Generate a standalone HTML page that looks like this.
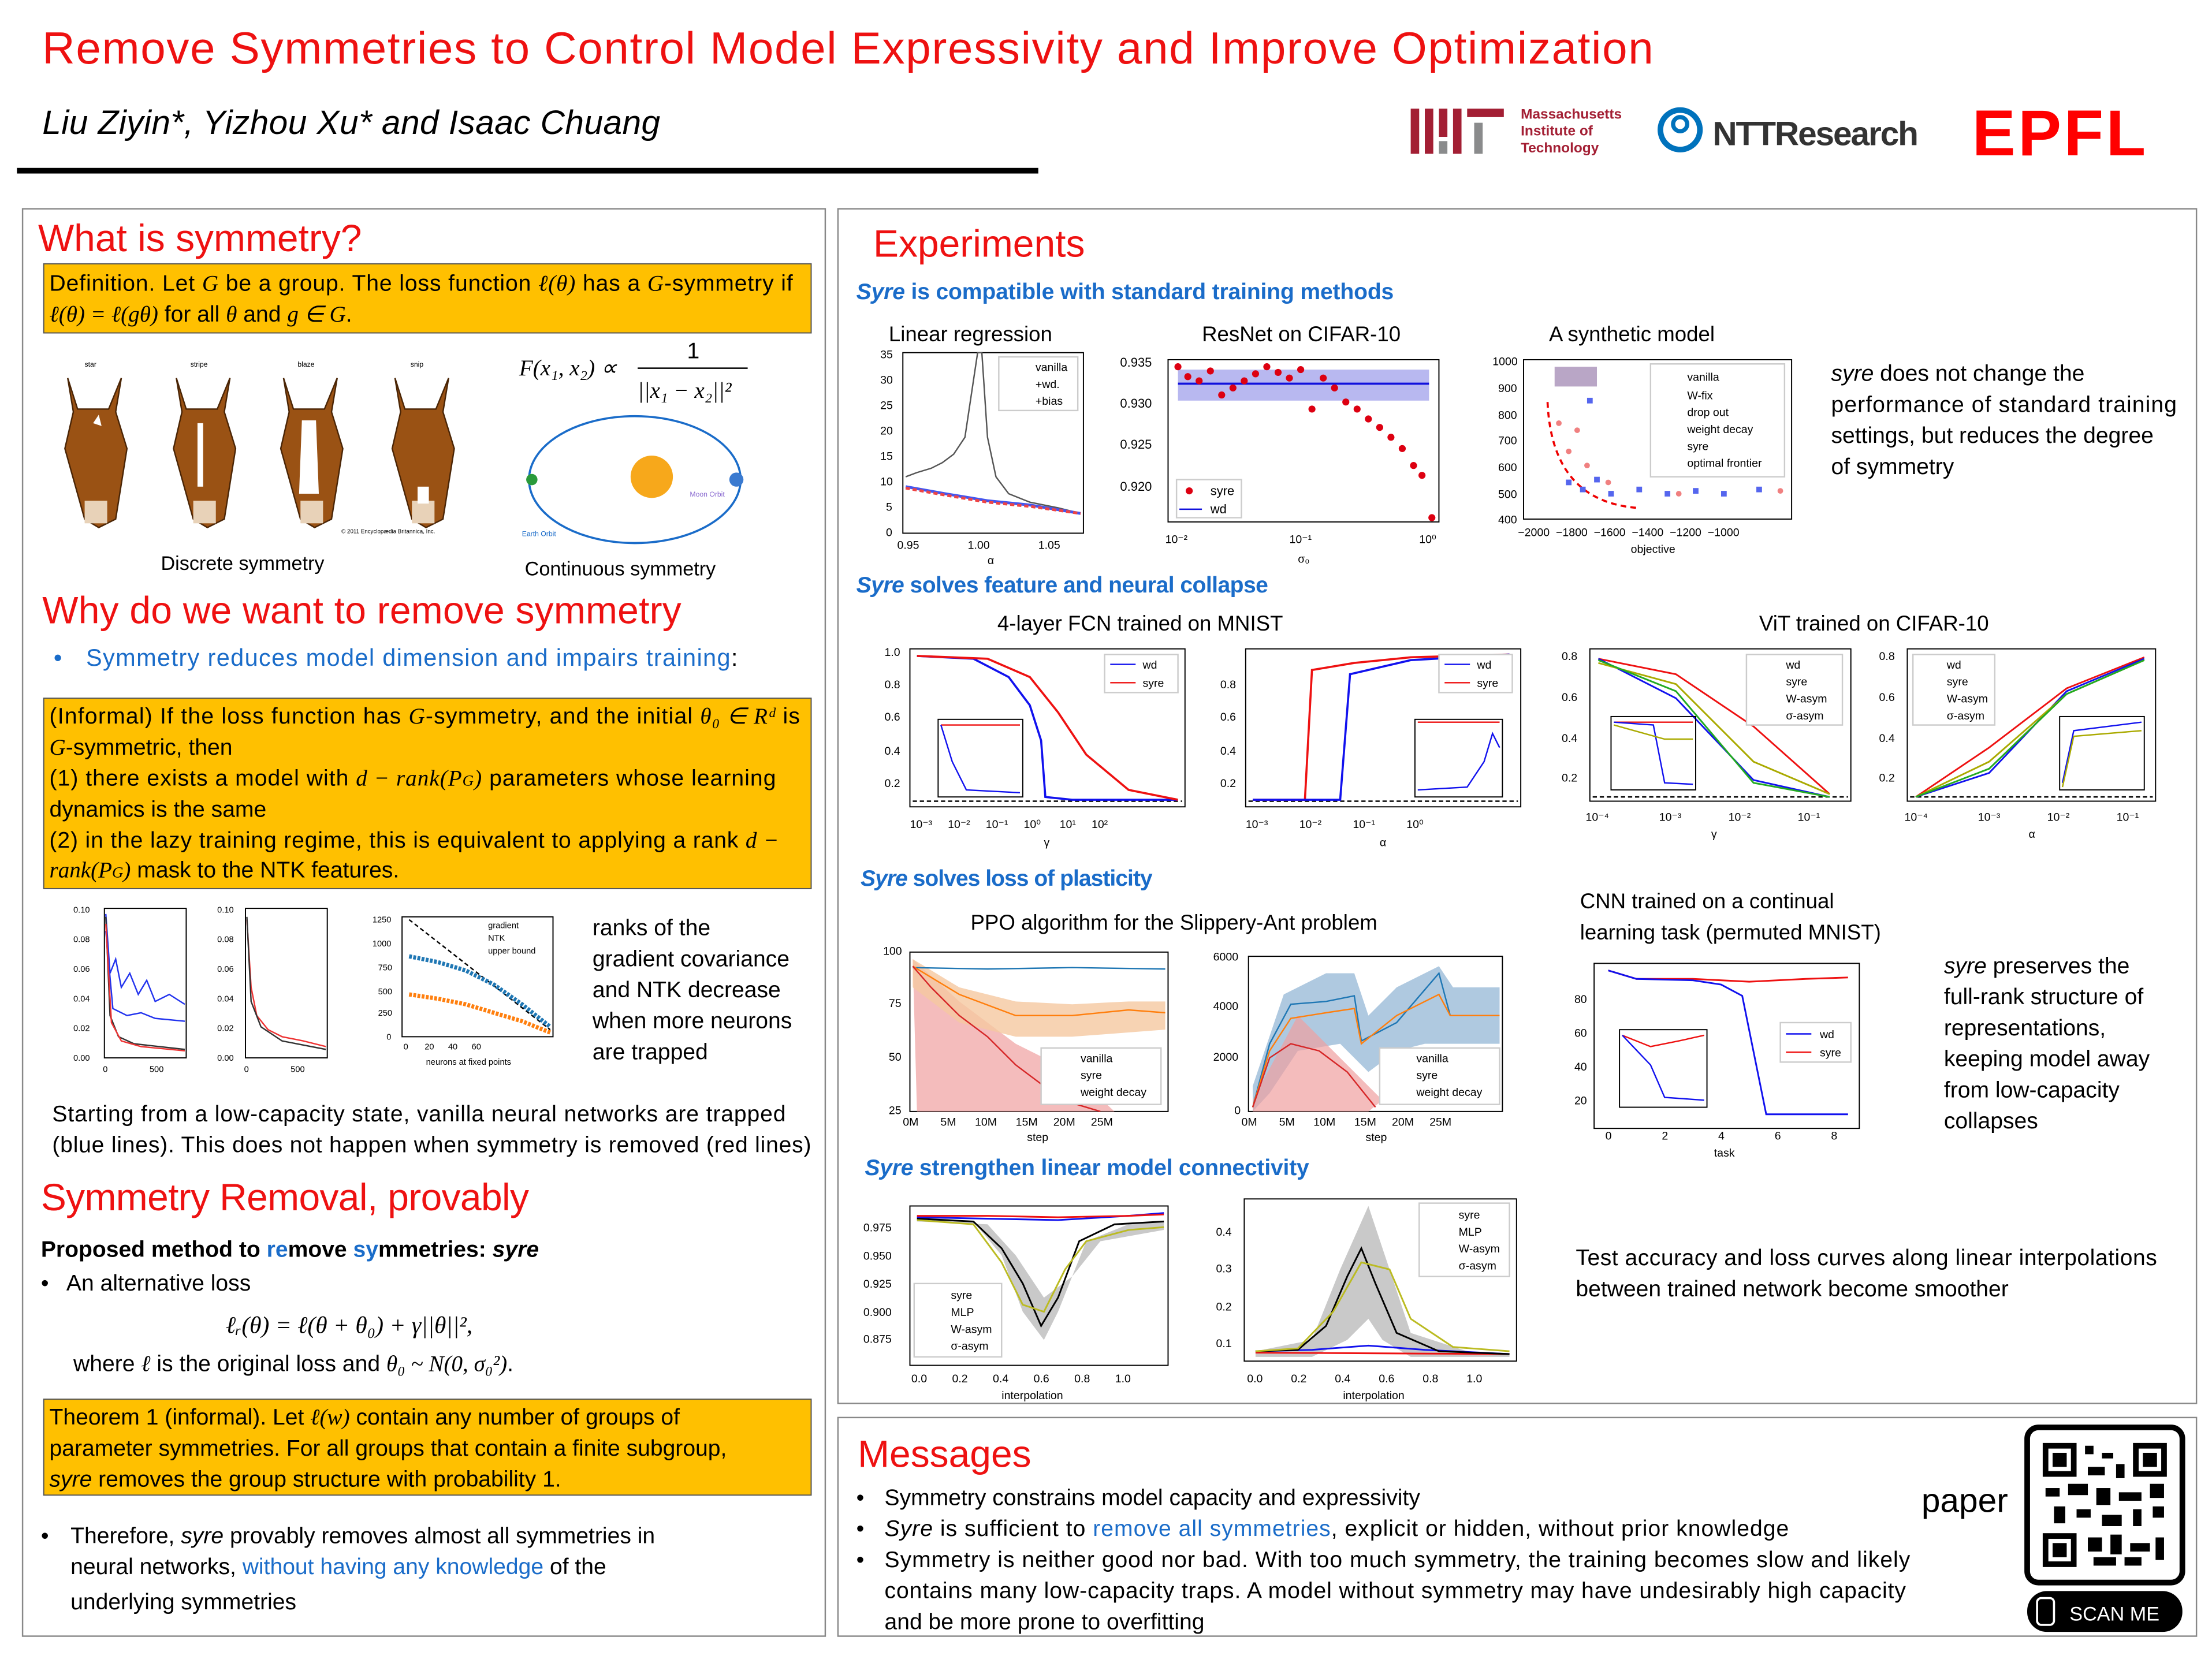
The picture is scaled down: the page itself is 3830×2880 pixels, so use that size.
<!DOCTYPE html>
<html><head><meta charset="utf-8"><style>
html,body{margin:0;padding:0;background:#fff}
svg{display:block}
text{font-family:"Liberation Sans",sans-serif;white-space:pre}
.t{font-size:16px;fill:#000}
.r{fill:#ee1111;font-size:27px}
.b{fill:#1a6cc9}
.sm{font-size:8px;fill:#000}
.ax{fill:none;stroke:#000;stroke-width:0.8}
.m{font-family:"Liberation Serif",serif;font-style:italic}
</style></head><body>
<svg width="3830" height="2880" viewBox="0 0 1568 1179" xmlns="http://www.w3.org/2000/svg">
<rect width="1568" height="1179" fill="#fff"/>
<!-- header -->
<text x="30" y="45" font-size="32" fill="#ee1111" textLength="1142">Remove Symmetries to Control Model Expressivity and Improve Optimization</text>
<text x="30" y="95" font-size="24" font-style="italic" textLength="438">Liu Ziyin*, Yizhou Xu* and Isaac Chuang</text>
<rect x="12" y="119" width="724" height="4" fill="#000"/>
<g fill="#a31f34"><rect x="1000" y="77" width="6" height="32"/><rect x="1010" y="77" width="6" height="32"/><rect x="1020" y="77" width="6" height="20"/><rect x="1030" y="77" width="6" height="32"/><rect x="1040" y="77" width="26" height="6"/></g>
<rect x="1020" y="100" width="6" height="9" fill="#8a8b8c"/><rect x="1045" y="87" width="6" height="22" fill="#8a8b8c"/>
<text x="1078" y="84" font-size="10" font-weight="bold" fill="#a31f34">Massachusetts</text>
<text x="1078" y="96" font-size="10" font-weight="bold" fill="#a31f34">Institute of</text>
<text x="1078" y="108" font-size="10" font-weight="bold" fill="#a31f34">Technology</text>
<circle cx="1191" cy="92" r="14" fill="none" stroke="#0072bc" stroke-width="4"/><circle cx="1191" cy="88" r="5" fill="none" stroke="#0072bc" stroke-width="3"/>
<text x="1214" y="103" font-size="24" font-weight="bold" fill="#333" textLength="146">NTTResearch</text>
<text x="1398" y="110" font-size="46" font-weight="bold" fill="#ff0000" textLength="123">EPFL</text>

<rect x="16" y="148" width="569" height="1012" fill="none" stroke="#888" stroke-width="1"/>
<rect x="594" y="148" width="963" height="847" fill="none" stroke="#888" stroke-width="1"/>
<rect x="594" y="1005" width="963" height="155" fill="none" stroke="#888" stroke-width="1"/>

<text x="27" y="178" class="r">What is symmetry?</text>
<rect x="31" y="187" width="544" height="49" fill="#ffc000" stroke="#555" stroke-width="0.8"/>
<text x="35" y="206" class="t" textLength="527">Definition. Let <tspan class="m">G</tspan> be a group. The loss function <tspan class="m">ℓ(θ)</tspan> has a <tspan class="m">G</tspan>-symmetry if</text>
<text x="35" y="228" class="t"><tspan class="m">ℓ(θ) = ℓ(gθ)</tspan> for all <tspan class="m">θ</tspan> and <tspan class="m">g ∈ G</tspan>.</text>
<g>
<g id="h" fill="#9a5214" stroke="#4a2506" stroke-width="1">
<path d="M48,268 L55,290 L77,290 L86,268 L82,292 L90,318 L82,368 L70,374 L60,368 L46,318 L52,292 Z"/>
<rect x="60" y="355" width="16" height="16" fill="#e8d2b8" stroke="none"/>
</g>
<use href="#h" x="77"/><use href="#h" x="153"/><use href="#h" x="232"/>
<path d="M66,300 L70,294 L72,302 Z" fill="#fff"/><rect x="140" y="300" width="4" height="45" fill="#fff"/>
<path d="M214,298 L224,298 L226,350 L212,350 Z" fill="#fff"/><rect x="296" y="345" width="8" height="12" fill="#fff"/>
<text x="60" y="260" font-size="5">star</text><text x="135" y="260" font-size="5">stripe</text><text x="211" y="260" font-size="5">blaze</text><text x="291" y="260" font-size="5">snip</text>
<text x="242" y="378" font-size="4">© 2011 Encyclopædia Britannica, Inc.</text>
</g>
<text x="368" y="266" font-size="16" class="m">F(x₁, x₂) ∝</text>
<text x="487" y="254" font-size="16">1</text>
<line x1="452" y1="261" x2="530" y2="261" stroke="#000" stroke-width="1"/>
<text x="452" y="282" font-size="16" class="m">||x₁ − x₂||²</text>
<ellipse cx="450" cy="340" rx="75" ry="45" fill="none" stroke="#1a6cc9" stroke-width="1.5"/>
<circle cx="462" cy="338" r="15" fill="#f7a81b"/>
<circle cx="377" cy="340" r="4" fill="#2a9a3a"/><circle cx="522" cy="340" r="5" fill="#3a7ad0"/>
<text x="370" y="380" font-size="5" fill="#1a6cc9">Earth Orbit</text><text x="489" y="352" font-size="5" fill="#8a6ad0">Moon Orbit</text>
<text x="114" y="404" font-size="14">Discrete symmetry</text>
<text x="372" y="408" font-size="14">Continuous symmetry</text>

<text x="30" y="442" class="r" textLength="453">Why do we want to remove symmetry</text>
<text x="38" y="472" font-size="17" class="b">•</text>
<text x="61" y="472" font-size="17" class="b" textLength="462">Symmetry reduces model dimension and impairs training<tspan fill="#000">:</tspan></text>
<rect x="31" y="495" width="544" height="135" fill="#ffc000" stroke="#555" stroke-width="0.8"/>
<text x="35" y="513" class="t" textLength="532">(Informal) If the loss function has <tspan class="m">G</tspan>-symmetry, and the initial <tspan class="m">θ₀ ∈ Rᵈ</tspan> is</text>
<text x="35" y="535" class="t"><tspan class="m">G</tspan>-symmetric, then</text>
<text x="35" y="557" class="t" textLength="515">(1) there exists a model with <tspan class="m">d − rank(P<tspan font-size="11">G</tspan>)</tspan> parameters whose learning</text>
<text x="35" y="579" class="t">dynamics is the same</text>
<text x="35" y="601" class="t" textLength="517">(2) in the lazy training regime, this is equivalent to applying a rank <tspan class="m">d −</tspan></text>
<text x="35" y="622" class="t"><tspan class="m">rank(P<tspan font-size="11">G</tspan>)</tspan> mask to the NTK features.</text>
<g>
<rect x="74" y="644" width="58" height="106" class="ax"/>
<polyline fill="none" stroke="#2233ee" stroke-width="1" points="75,648 78,690 82,680 86,700 92,690 98,705 104,695 110,710 120,705 131,712"/>
<polyline fill="none" stroke="#2233ee" stroke-width="1" points="75,660 80,715 90,720 100,718 110,722 131,724"/>
<polyline fill="none" stroke="#333" stroke-width="1" points="75,650 78,720 84,735 95,740 131,744"/>
<polyline fill="none" stroke="#e33" stroke-width="1" points="75,655 79,725 86,738 100,742 131,745"/>
<text x="52" y="647" font-size="6">0.10</text><text x="52" y="668" font-size="6">0.08</text><text x="52" y="689" font-size="6">0.06</text><text x="52" y="710" font-size="6">0.04</text><text x="52" y="731" font-size="6">0.02</text><text x="52" y="752" font-size="6">0.00</text>
<text x="73" y="760" font-size="6">0</text><text x="106" y="760" font-size="6">500</text>
<rect x="174" y="644" width="58" height="106" class="ax"/>
<polyline fill="none" stroke="#e33" stroke-width="1" points="175,652 178,700 182,720 190,730 200,735 215,738 231,742"/>
<polyline fill="none" stroke="#333" stroke-width="1" points="175,650 178,710 185,728 200,738 231,744"/>
<text x="154" y="647" font-size="6">0.10</text><text x="154" y="668" font-size="6">0.08</text><text x="154" y="689" font-size="6">0.06</text><text x="154" y="710" font-size="6">0.04</text><text x="154" y="731" font-size="6">0.02</text><text x="154" y="752" font-size="6">0.00</text>
<text x="173" y="760" font-size="6">0</text><text x="206" y="760" font-size="6">500</text>
<rect x="285" y="650" width="107" height="85" class="ax"/>
<line x1="290" y1="652" x2="390" y2="730" stroke="#000" stroke-dasharray="3,2" stroke-width="1"/>
<polyline fill="none" stroke="#1f77b4" stroke-width="3" stroke-dasharray="2,1" points="290,678 310,682 330,688 350,698 370,712 390,728"/>
<polyline fill="none" stroke="#ff7f0e" stroke-width="3" stroke-dasharray="2,1" points="290,705 310,708 330,712 350,718 370,724 390,732"/>
<text x="264" y="654" font-size="6">1250</text><text x="264" y="671" font-size="6">1000</text><text x="268" y="688" font-size="6">750</text><text x="268" y="705" font-size="6">500</text><text x="268" y="720" font-size="6">250</text><text x="274" y="737" font-size="6">0</text>
<text x="286" y="744" font-size="6">0       20      40      60</text>
<text x="302" y="755" font-size="6">neurons at fixed points</text>
<text x="346" y="658" font-size="6">gradient</text><text x="346" y="667" font-size="6">NTK</text><text x="346" y="676" font-size="6">upper bound</text>
</g>
<text x="420" y="663" class="t">ranks of the</text>
<text x="420" y="685" class="t">gradient covariance</text>
<text x="420" y="707" class="t">and NTK decrease</text>
<text x="420" y="729" class="t">when more neurons</text>
<text x="420" y="751" class="t">are trapped</text>
<text x="37" y="795" class="t" textLength="520">Starting from a low-capacity state, vanilla neural networks are trapped</text>
<text x="37" y="817" class="t" textLength="538">(blue lines). This does not happen when symmetry is removed (red lines)</text>

<text x="29" y="858" class="r" textLength="346">Symmetry Removal, provably</text>
<text x="29" y="891" class="t" font-weight="bold">Proposed method to <tspan class="b">re</tspan>move <tspan class="b">sy</tspan>mmetries: <tspan font-style="italic">syre</tspan></text>
<text x="29" y="915" class="t">•   An alternative loss</text>
<text x="160" y="945" font-size="17" class="m">ℓᵣ(θ) = ℓ(θ + θ₀) + γ||θ||²,</text>
<text x="52" y="972" class="t">where <tspan class="m">ℓ</tspan> is the original loss and <tspan class="m">θ₀ ~ N(0, σ₀²)</tspan>.</text>
<rect x="31" y="992" width="544" height="68" fill="#ffc000" stroke="#555" stroke-width="0.8"/>
<text x="35" y="1010" class="t">Theorem 1 (informal). Let <tspan class="m">ℓ(w)</tspan> contain any number of groups of</text>
<text x="35" y="1032" class="t">parameter symmetries. For all groups that contain a finite subgroup,</text>
<text x="35" y="1054" class="t"><tspan font-style="italic">syre</tspan> removes the group structure with probability 1.</text>
<text x="29" y="1094" class="t">•</text>
<text x="50" y="1094" class="t">Therefore, <tspan font-style="italic">syre</tspan> provably removes almost all symmetries in</text>
<text x="50" y="1116" class="t">neural networks, <tspan class="b">without having any knowledge</tspan> of the</text>
<text x="50" y="1141" class="t">underlying symmetries</text>

<text x="619" y="182" class="r">Experiments</text>
<text x="607" y="212" font-size="16" font-weight="bold" class="b" textLength="381"><tspan font-style="italic">Syre</tspan> is compatible with standard training methods</text>
<text x="630" y="242" font-size="15">Linear regression</text>
<text x="852" y="242" font-size="15">ResNet on CIFAR-10</text>
<text x="1098" y="242" font-size="15">A synthetic model</text>
<rect x="640" y="250" width="128" height="128" class="ax"/>
<polyline fill="none" stroke="#555" stroke-width="1" points="642,338 650,335 660,332 668,328 676,322 684,310 690,270 693,250 696,250 700,310 706,338 715,350 730,356 750,360 766,364"/>
<polyline fill="none" stroke="#4455ee" stroke-width="2" points="642,345 670,350 700,355 730,358 766,364"/>
<polyline fill="none" stroke="#ee4444" stroke-width="2" stroke-dasharray="3,2" points="642,346 670,351 700,356 730,359 766,364"/>
<text x="624" y="254" font-size="8">35</text><text x="624" y="272" font-size="8">30</text><text x="624" y="290" font-size="8">25</text><text x="624" y="308" font-size="8">20</text><text x="624" y="326" font-size="8">15</text><text x="624" y="344" font-size="8">10</text><text x="628" y="362" font-size="8">5</text><text x="628" y="380" font-size="8">0</text>
<text x="636" y="389" font-size="8">0.95</text><text x="686" y="389" font-size="8">1.00</text><text x="736" y="389" font-size="8">1.05</text><text x="700" y="400" font-size="8">α</text>
<rect x="708" y="253" width="56" height="38" fill="#fff" stroke="#ccc"/>
<text x="734" y="263" font-size="8">vanilla</text><text x="734" y="275" font-size="8">+wd.</text><text x="734" y="287" font-size="8">+bias</text>
<rect x="828" y="255" width="192" height="115" class="ax"/>
<rect x="835" y="262" width="178" height="22" fill="#b8b8f0"/>
<line x1="835" y1="272" x2="1013" y2="272" stroke="#1111dd" stroke-width="1.5"/>
<g fill="#dd0011">
<circle cx="835" cy="260" r="2.5"/><circle cx="842" cy="267" r="2.5"/><circle cx="850" cy="270" r="2.5"/><circle cx="858" cy="263" r="2.5"/><circle cx="866" cy="280" r="2.5"/><circle cx="874" cy="275" r="2.5"/><circle cx="882" cy="270" r="2.5"/><circle cx="890" cy="265" r="2.5"/><circle cx="898" cy="260" r="2.5"/><circle cx="906" cy="264" r="2.5"/><circle cx="914" cy="268" r="2.5"/><circle cx="922" cy="262" r="2.5"/><circle cx="930" cy="290" r="2.5"/><circle cx="938" cy="268" r="2.5"/><circle cx="946" cy="275" r="2.5"/><circle cx="954" cy="285" r="2.5"/><circle cx="962" cy="290" r="2.5"/><circle cx="970" cy="297" r="2.5"/><circle cx="978" cy="303" r="2.5"/><circle cx="986" cy="310" r="2.5"/><circle cx="994" cy="318" r="2.5"/><circle cx="1002" cy="330" r="2.5"/><circle cx="1008" cy="337" r="2.5"/><circle cx="1015" cy="367" r="2.5"/></g>
<text x="794" y="260" font-size="9">0.935</text><text x="794" y="289" font-size="9">0.930</text><text x="794" y="318" font-size="9">0.925</text><text x="794" y="348" font-size="9">0.920</text>
<text x="826" y="385" font-size="8">10⁻²</text><text x="914" y="385" font-size="8">10⁻¹</text><text x="1006" y="385" font-size="8">10⁰</text><text x="920" y="399" font-size="8">σ₀</text>
<rect x="834" y="340" width="46" height="27" fill="#fff" stroke="#ccc"/><circle cx="843" cy="348" r="2.5" fill="#d01"/><text x="858" y="351" font-size="9">syre</text><line x1="836" y1="361" x2="852" y2="361" stroke="#11d"/><text x="858" y="364" font-size="9">wd</text>
<rect x="1080" y="255" width="190" height="113" class="ax"/>
<path d="M1097,285 Q1100,355 1160,360" fill="none" stroke="#e00" stroke-width="1.5" stroke-dasharray="4,3"/>
<g fill="#5566ee"><rect x="1110" y="340" width="4" height="4"/><rect x="1120" y="345" width="4" height="4"/><rect x="1130" y="338" width="4" height="4"/><rect x="1140" y="348" width="4" height="4"/><rect x="1160" y="345" width="4" height="4"/><rect x="1180" y="348" width="4" height="4"/><rect x="1200" y="346" width="4" height="4"/><rect x="1220" y="348" width="4" height="4"/><rect x="1245" y="345" width="4" height="4"/><rect x="1125" y="282" width="4" height="4"/></g>
<g fill="#f08080"><circle cx="1105" cy="300" r="2"/><circle cx="1112" cy="320" r="2"/><circle cx="1118" cy="305" r="2"/><circle cx="1125" cy="330" r="2"/><circle cx="1140" cy="342" r="2"/><circle cx="1190" cy="350" r="2"/><circle cx="1262" cy="348" r="2"/></g>
<rect x="1102" y="260" width="30" height="14" fill="#8a6aa0" opacity="0.6"/>
<text x="1058" y="259" font-size="8">1000</text><text x="1062" y="278" font-size="8">900</text><text x="1062" y="297" font-size="8">800</text><text x="1062" y="315" font-size="8">700</text><text x="1062" y="334" font-size="8">600</text><text x="1062" y="353" font-size="8">500</text><text x="1062" y="371" font-size="8">400</text>
<text x="1076" y="380" font-size="8">−2000  −1800  −1600  −1400  −1200  −1000</text><text x="1156" y="392" font-size="8">objective</text>
<rect x="1170" y="258" width="95" height="80" fill="#fff" stroke="#ccc"/>
<text x="1196" y="270" font-size="8">vanilla</text><text x="1196" y="283" font-size="8">W-fix</text><text x="1196" y="295" font-size="8">drop out</text><text x="1196" y="307" font-size="8">weight decay</text><text x="1196" y="319" font-size="8">syre</text><text x="1196" y="331" font-size="8">optimal frontier</text>
<text x="1298" y="270" class="t"><tspan font-style="italic">syre</tspan> does not change the</text>
<text x="1298" y="292" class="t" textLength="245">performance of standard training</text>
<text x="1298" y="314" class="t">settings, but reduces the degree</text>
<text x="1298" y="336" class="t">of symmetry</text>

<text x="607" y="420" font-size="16" font-weight="bold" class="b" textLength="292"><tspan font-style="italic">Syre</tspan> solves feature and neural collapse</text>
<text x="707" y="447" font-size="15">4-layer FCN trained on MNIST</text>
<text x="1247" y="447" font-size="15">ViT trained on CIFAR-10</text>
<rect x="645" y="460" width="195" height="112" class="ax"/>
<line x1="647" y1="568" x2="838" y2="568" stroke="#000" stroke-dasharray="3,2"/>
<polyline fill="none" stroke="#11e" stroke-width="1.5" points="650,465 690,467 715,480 730,500 738,525 741,565 760,567 835,567"/>
<polyline fill="none" stroke="#e11" stroke-width="1.5" points="650,465 700,467 730,480 750,505 770,535 800,560 835,567"/>
<rect x="665" y="510" width="60" height="55" fill="#fff" class="ax"/>
<polyline fill="none" stroke="#e11" points="667,514 723,514"/><polyline fill="none" stroke="#11e" points="667,514 675,540 685,560 723,562"/>
<text x="627" y="465" font-size="8">1.0</text><text x="627" y="488" font-size="8">0.8</text><text x="627" y="511" font-size="8">0.6</text><text x="627" y="535" font-size="8">0.4</text><text x="627" y="558" font-size="8">0.2</text>
<text x="645" y="587" font-size="8">10⁻³     10⁻²     10⁻¹     10⁰      10¹     10²</text><text x="740" y="600" font-size="8">γ</text>
<rect x="783" y="464" width="52" height="27" fill="#fff" stroke="#ccc"/><line x1="787" y1="471" x2="805" y2="471" stroke="#11e"/><text x="810" y="474" font-size="8">wd</text><line x1="787" y1="484" x2="805" y2="484" stroke="#e11"/><text x="810" y="487" font-size="8">syre</text>
<rect x="883" y="460" width="195" height="112" class="ax"/>
<line x1="885" y1="568" x2="1076" y2="568" stroke="#000" stroke-dasharray="3,2"/>
<polyline fill="none" stroke="#e11" stroke-width="1.5" points="888,567 925,567 930,475 960,470 1000,466 1070,464"/>
<polyline fill="none" stroke="#11e" stroke-width="1.5" points="888,567 950,567 957,478 1000,468 1070,464"/>
<rect x="1003" y="510" width="62" height="55" fill="#fff" class="ax"/>
<polyline fill="none" stroke="#e11" points="1005,512 1063,512"/><polyline fill="none" stroke="#11e" points="1005,560 1040,558 1052,540 1058,520 1063,530"/>
<text x="865" y="488" font-size="8">0.8</text><text x="865" y="511" font-size="8">0.6</text><text x="865" y="535" font-size="8">0.4</text><text x="865" y="558" font-size="8">0.2</text>
<text x="883" y="587" font-size="8">10⁻³          10⁻²          10⁻¹          10⁰</text><text x="978" y="600" font-size="8">α</text>
<rect x="1020" y="464" width="52" height="27" fill="#fff" stroke="#ccc"/><line x1="1024" y1="471" x2="1042" y2="471" stroke="#11e"/><text x="1047" y="474" font-size="8">wd</text><line x1="1024" y1="484" x2="1042" y2="484" stroke="#e11"/><text x="1047" y="487" font-size="8">syre</text>
<rect x="1127" y="460" width="185" height="108" class="ax"/>
<line x1="1129" y1="565" x2="1310" y2="565" stroke="#000" stroke-dasharray="3,2"/>
<polyline fill="none" stroke="#e11" stroke-width="1.2" points="1133,467 1188,478 1243,515 1297,563"/>
<polyline fill="none" stroke="#11e" stroke-width="1.2" points="1133,467 1188,495 1243,553 1297,565"/>
<polyline fill="none" stroke="#aa0" stroke-width="1.2" points="1133,470 1188,485 1243,540 1297,563"/>
<polyline fill="none" stroke="#2a2" stroke-width="1.2" points="1133,468 1188,490 1243,555 1297,565"/>
<rect x="1142" y="508" width="60" height="52" fill="#fff" class="ax"/>
<polyline fill="none" stroke="#e11" points="1144,512 1200,512"/><polyline fill="none" stroke="#11e" points="1144,512 1172,514 1180,555 1200,556"/><polyline fill="none" stroke="#aa0" points="1144,514 1180,524 1200,524"/>
<text x="1107" y="468" font-size="8">0.8</text><text x="1107" y="497" font-size="8">0.6</text><text x="1107" y="526" font-size="8">0.4</text><text x="1107" y="554" font-size="8">0.2</text>
<text x="1124" y="582" font-size="8">10⁻⁴                10⁻³               10⁻²               10⁻¹</text><text x="1213" y="594" font-size="8">γ</text>
<rect x="1238" y="464" width="68" height="50" fill="#fff" stroke="#ccc"/><text x="1266" y="474" font-size="8">wd</text><text x="1266" y="486" font-size="8">syre</text><text x="1266" y="498" font-size="8">W-asym</text><text x="1266" y="510" font-size="8">σ-asym</text>
<rect x="1352" y="460" width="176" height="108" class="ax"/>
<line x1="1354" y1="565" x2="1526" y2="565" stroke="#000" stroke-dasharray="3,2"/>
<polyline fill="none" stroke="#e11" stroke-width="1.2" points="1358,565 1410,530 1465,488 1520,466"/>
<polyline fill="none" stroke="#11e" stroke-width="1.2" points="1358,565 1410,548 1465,490 1520,467"/>
<polyline fill="none" stroke="#aa0" stroke-width="1.2" points="1358,565 1410,540 1465,492 1520,468"/>
<polyline fill="none" stroke="#2a2" stroke-width="1.2" points="1358,565 1410,545 1465,492 1520,468"/>
<rect x="1460" y="508" width="60" height="52" fill="#fff" class="ax"/>
<polyline fill="none" stroke="#11e" points="1462,555 1470,518 1518,512"/><polyline fill="none" stroke="#aa0" points="1462,558 1470,522 1518,518"/>
<text x="1332" y="468" font-size="8">0.8</text><text x="1332" y="497" font-size="8">0.6</text><text x="1332" y="526" font-size="8">0.4</text><text x="1332" y="554" font-size="8">0.2</text>
<text x="1350" y="582" font-size="8">10⁻⁴                10⁻³               10⁻²               10⁻¹</text><text x="1438" y="594" font-size="8">α</text>
<rect x="1356" y="464" width="58" height="50" fill="#fff" stroke="#ccc"/><text x="1380" y="474" font-size="8">wd</text><text x="1380" y="486" font-size="8">syre</text><text x="1380" y="498" font-size="8">W-asym</text><text x="1380" y="510" font-size="8">σ-asym</text>

<text x="610" y="628" font-size="16" font-weight="bold" class="b" textLength="207"><tspan font-style="italic">Syre</tspan> solves loss of plasticity</text>
<text x="688" y="659" font-size="15">PPO algorithm for the Slippery-Ant problem</text>
<text x="1120" y="644" font-size="15">CNN trained on a continual</text>
<text x="1120" y="666" font-size="15">learning task (permuted MNIST)</text>
<rect x="645" y="675" width="183" height="113" class="ax"/>
<path d="M647,680 L680,710 L720,740 L760,760 L790,788 L650,788 Z" fill="#f0a0a0" opacity="0.7"/>
<path d="M647,680 L680,700 L720,710 L760,712 L800,710 L826,710 L826,730 L760,735 L720,735 L680,725 L647,700 Z" fill="#f5c8a0" opacity="0.8"/>
<polyline fill="none" stroke="#1f77b4" stroke-width="1" points="647,686 700,687 760,686 826,687"/>
<polyline fill="none" stroke="#ff7f0e" stroke-width="1" points="647,685 680,705 720,720 760,720 800,716 826,718"/>
<polyline fill="none" stroke="#d62728" stroke-width="1" points="647,685 660,700 680,720 700,735 720,755 740,770 760,782 780,788"/>
<text x="626" y="677" font-size="8">100</text><text x="630" y="714" font-size="8">75</text><text x="630" y="752" font-size="8">50</text><text x="630" y="790" font-size="8">25</text>
<text x="640" y="798" font-size="8">0M       5M      10M      15M     20M     25M</text><text x="728" y="809" font-size="8">step</text>
<rect x="738" y="743" width="85" height="40" fill="#fff" stroke="#ccc"/><text x="766" y="753" font-size="8">vanilla</text><text x="766" y="765" font-size="8">syre</text><text x="766" y="777" font-size="8">weight decay</text>
<rect x="885" y="678" width="180" height="110" class="ax"/>
<path d="M888,770 L910,705 L940,690 L960,690 L970,720 L990,700 L1020,685 L1030,700 L1063,700 L1063,740 L1030,740 L1010,740 L990,745 L970,760 L950,740 L920,745 L900,775 L888,788 Z" fill="#9bbcd8" opacity="0.8"/>
<path d="M888,780 L920,720 L960,760 L980,780 L970,788 L888,788 Z" fill="#f0a0a0" opacity="0.7"/>
<polyline fill="none" stroke="#1f77b4" stroke-width="1" points="888,785 900,740 915,712 940,710 960,706 965,738 990,725 1020,690 1028,720 1063,720"/>
<polyline fill="none" stroke="#ff7f0e" stroke-width="1" points="888,785 900,745 915,722 940,718 960,715 965,740 990,720 1020,705 1028,720 1063,720"/>
<polyline fill="none" stroke="#d62728" stroke-width="1" points="888,785 900,750 915,740 935,745 955,760 975,785"/>
<text x="860" y="681" font-size="8">6000</text><text x="860" y="716" font-size="8">4000</text><text x="860" y="752" font-size="8">2000</text><text x="875" y="790" font-size="8">0</text>
<text x="880" y="798" font-size="8">0M       5M      10M      15M     20M     25M</text><text x="968" y="809" font-size="8">step</text>
<rect x="978" y="743" width="85" height="40" fill="#fff" stroke="#ccc"/><text x="1004" y="753" font-size="8">vanilla</text><text x="1004" y="765" font-size="8">syre</text><text x="1004" y="777" font-size="8">weight decay</text>
<rect x="1130" y="683" width="188" height="117" class="ax"/>
<polyline fill="none" stroke="#e11" stroke-width="1.2" points="1140,688 1160,694 1200,694 1240,696 1280,694 1310,693"/>
<polyline fill="none" stroke="#11e" stroke-width="1.2" points="1140,688 1160,694 1200,695 1220,698 1235,706 1252,790 1310,790"/>
<rect x="1148" y="730" width="62" height="55" fill="#fff" class="ax"/>
<polyline fill="none" stroke="#e11" points="1150,734 1170,742 1190,738 1208,734"/><polyline fill="none" stroke="#11e" points="1150,734 1170,755 1180,778 1208,780"/>
<text x="1116" y="711" font-size="8">80</text><text x="1116" y="735" font-size="8">60</text><text x="1116" y="759" font-size="8">40</text><text x="1116" y="783" font-size="8">20</text>
<text x="1138" y="808" font-size="8">0                2                4                6                8</text><text x="1215" y="820" font-size="8">task</text>
<rect x="1262" y="725" width="50" height="28" fill="#fff" stroke="#ccc"/><line x1="1266" y1="733" x2="1284" y2="733" stroke="#11e"/><text x="1290" y="736" font-size="8">wd</text><line x1="1266" y1="746" x2="1284" y2="746" stroke="#e11"/><text x="1290" y="749" font-size="8">syre</text>
<text x="1378" y="690" class="t"><tspan font-style="italic">syre</tspan> preserves the</text>
<text x="1378" y="712" class="t">full-rank structure of</text>
<text x="1378" y="734" class="t">representations,</text>
<text x="1378" y="756" class="t">keeping model away</text>
<text x="1378" y="778" class="t">from low-capacity</text>
<text x="1378" y="800" class="t">collapses</text>

<text x="613" y="833" font-size="16" font-weight="bold" class="b" textLength="315"><tspan font-style="italic">Syre</tspan> strengthen linear model connectivity</text>
<rect x="645" y="855" width="183" height="113" class="ax"/>
<path d="M650,862 L690,866 L710,890 L725,930 L740,950 L750,930 L770,880 L800,868 L825,866 L825,872 L780,880 L760,905 L740,920 L720,890 L700,868 L650,866 Z" fill="#bbb" opacity="0.8"/>
<polyline fill="none" stroke="#11e" stroke-width="1.2" points="650,863 700,864 750,865 800,862 825,860"/>
<polyline fill="none" stroke="#e11" stroke-width="1.2" points="650,862 700,862 750,863 800,862 825,861"/>
<polyline fill="none" stroke="#000" stroke-width="1.2" points="650,864 690,866 710,885 725,910 738,940 750,920 765,880 790,868 825,866"/>
<polyline fill="none" stroke="#bb2" stroke-width="1.2" points="650,865 690,868 710,895 725,925 740,930 755,900 770,880 800,872 825,870"/>
<text x="612" y="873" font-size="8">0.975</text><text x="612" y="893" font-size="8">0.950</text><text x="612" y="913" font-size="8">0.925</text><text x="612" y="933" font-size="8">0.900</text><text x="612" y="952" font-size="8">0.875</text>
<text x="646" y="980" font-size="8">0.0        0.2        0.4        0.6        0.8        1.0</text><text x="710" y="992" font-size="8">interpolation</text>
<rect x="648" y="910" width="62" height="52" fill="#fff" stroke="#ccc"/><text x="674" y="921" font-size="8">syre</text><text x="674" y="933" font-size="8">MLP</text><text x="674" y="945" font-size="8">W-asym</text><text x="674" y="957" font-size="8">σ-asym</text>
<rect x="882" y="850" width="193" height="115" class="ax"/>
<path d="M890,958 L930,950 L950,900 L970,855 L985,900 L1000,945 L1040,958 L1070,960 L1070,962 L1000,962 L980,950 L970,935 L955,950 L930,962 L890,962 Z" fill="#bbb" opacity="0.8"/>
<polyline fill="none" stroke="#11e" stroke-width="1.2" points="890,958 930,957 970,954 1010,957 1070,960"/>
<polyline fill="none" stroke="#e11" stroke-width="1.2" points="890,959 1070,960"/>
<polyline fill="none" stroke="#000" stroke-width="1.2" points="890,958 920,957 940,940 955,905 965,885 975,910 990,945 1020,958 1070,960"/>
<polyline fill="none" stroke="#bb2" stroke-width="1.2" points="890,958 920,956 945,930 965,895 985,900 1000,935 1030,955 1070,958"/>
<text x="862" y="876" font-size="8">0.4</text><text x="862" y="902" font-size="8">0.3</text><text x="862" y="929" font-size="8">0.2</text><text x="862" y="955" font-size="8">0.1</text>
<text x="884" y="980" font-size="8">0.0         0.2         0.4         0.6         0.8         1.0</text><text x="952" y="992" font-size="8">interpolation</text>
<rect x="1006" y="853" width="64" height="52" fill="#fff" stroke="#ccc"/><text x="1034" y="864" font-size="8">syre</text><text x="1034" y="876" font-size="8">MLP</text><text x="1034" y="888" font-size="8">W-asym</text><text x="1034" y="900" font-size="8">σ-asym</text>
<text x="1117" y="897" class="t" textLength="412">Test accuracy and loss curves along linear interpolations</text>
<text x="1117" y="919" class="t">between trained network become smoother</text>

<text x="608" y="1040" class="r">Messages</text>
<text x="607" y="1067" class="t">•</text><text x="627" y="1067" class="t">Symmetry constrains model capacity and expressivity</text>
<text x="607" y="1089" class="t">•</text><text x="627" y="1089" class="t" textLength="641"><tspan font-style="italic">Syre</tspan> is sufficient to <tspan class="b">remove all symmetries</tspan>, explicit or hidden, without prior knowledge</text>
<text x="607" y="1111" class="t">•</text><text x="627" y="1111" class="t" textLength="727">Symmetry is neither good nor bad. With too much symmetry, the training becomes slow and likely</text>
<text x="627" y="1133" class="t" textLength="724">contains many low-capacity traps. A model without symmetry may have undesirably high capacity</text>
<text x="627" y="1155" class="t">and be more prone to overfitting</text>
<text x="1362" y="1072" font-size="24">paper</text>
<rect x="1437" y="1012" width="110" height="110" rx="8" fill="#fff" stroke="#000" stroke-width="4"/>
<g fill="#000">
<rect x="1448" y="1023" width="24" height="24"/><rect x="1452" y="1027" width="16" height="16" fill="#fff"/><rect x="1455" y="1030" width="10" height="10"/>
<rect x="1512" y="1023" width="24" height="24"/><rect x="1516" y="1027" width="16" height="16" fill="#fff"/><rect x="1519" y="1030" width="10" height="10"/>
<rect x="1448" y="1087" width="24" height="24"/><rect x="1452" y="1091" width="16" height="16" fill="#fff"/><rect x="1455" y="1094" width="10" height="10"/>
<rect x="1478" y="1025" width="6" height="6"/><rect x="1490" y="1030" width="8" height="4"/><rect x="1480" y="1040" width="12" height="6"/><rect x="1500" y="1038" width="6" height="10"/>
<rect x="1450" y="1055" width="10" height="6"/><rect x="1466" y="1052" width="14" height="8"/><rect x="1486" y="1055" width="10" height="12"/><rect x="1502" y="1058" width="16" height="6"/><rect x="1524" y="1052" width="10" height="10"/>
<rect x="1456" y="1068" width="8" height="12"/><rect x="1472" y="1070" width="10" height="6"/><rect x="1490" y="1074" width="14" height="8"/><rect x="1512" y="1070" width="6" height="12"/><rect x="1526" y="1068" width="8" height="8"/>
<rect x="1480" y="1090" width="10" height="10"/><rect x="1496" y="1088" width="8" height="14"/><rect x="1510" y="1094" width="14" height="6"/><rect x="1528" y="1090" width="6" height="16"/><rect x="1484" y="1104" width="16" height="6"/><rect x="1506" y="1104" width="12" height="6"/>
</g>
<rect x="1437" y="1128" width="110" height="29" rx="14" fill="#000"/>
<rect x="1444" y="1133" width="12" height="19" rx="3" fill="none" stroke="#fff" stroke-width="1.5"/>
<text x="1467" y="1149" font-size="14" fill="#fff">SCAN ME</text>
</svg>
</body></html>
